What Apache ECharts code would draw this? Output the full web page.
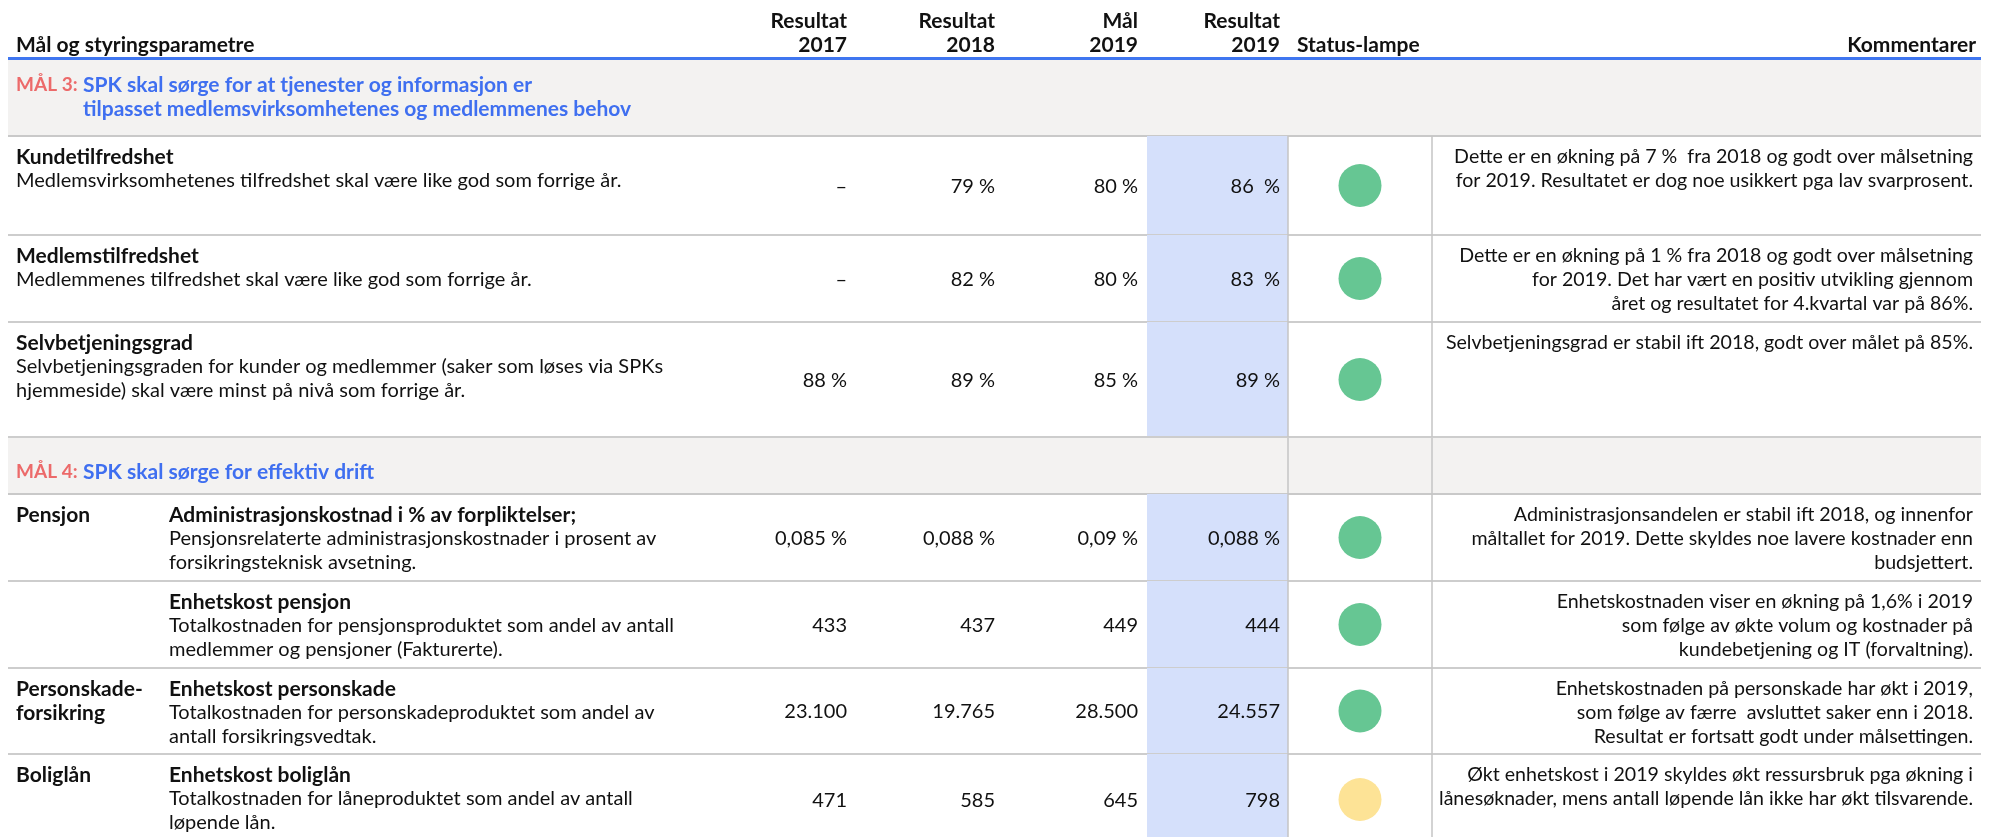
<!DOCTYPE html>
<html>
<head>
<meta charset="utf-8">
<script src="https://cdn.jsdelivr.net/npm/echarts@6/dist/echarts.min.js"></script>
<style>
  html, body { margin: 0; padding: 0; background: #fff; }
  #chart { width: 1996px; height: 837px; }
</style>
</head>
<body>
<div id="chart"></div>
<script>
// tabelltekster og verdier
var headTitle = 'Mål og styringsparametre';
var headValues = ['Resultat\n2017', 'Resultat\n2018', 'Mål\n2019', 'Resultat\n2019'];
var headLamp = 'Status-lampe';
var headComment = 'Kommentarer';

var goalLabels = ['MÅL 3:', 'MÅL 4:'];
var goalTexts = [
    'SPK skal sørge for at tjenester og informasjon er\ntilpasset medlemsvirksomhetenes og medlemmenes behov',
    'SPK skal sørge for effektiv drift'
];

var rowGoal = [0, 0, 0, 1, 1, 1, 1];
var areas = ['', '', '', 'Pensjon', '', 'Personskade-\nforsikring', 'Boliglån'];
var titles = [
    'Kundetilfredshet',
    'Medlemstilfredshet',
    'Selvbetjeningsgrad',
    'Administrasjonskostnad i % av forpliktelser;',
    'Enhetskost pensjon',
    'Enhetskost personskade',
    'Enhetskost boliglån'
];
var descriptions = [
    'Medlemsvirksomhetenes tilfredshet skal være like god som forrige år.',
    'Medlemmenes tilfredshet skal være like god som forrige år.',
    'Selvbetjeningsgraden for kunder og medlemmer (saker som løses via SPKs\nhjemmeside) skal være minst på nivå som forrige år.',
    'Pensjonsrelaterte administrasjonskostnader i prosent av\nforsikringsteknisk avsetning.',
    'Totalkostnaden for pensjonsproduktet som andel av antall\nmedlemmer og pensjoner (Fakturerte).',
    'Totalkostnaden for personskadeproduktet som andel av\nantall forsikringsvedtak.',
    'Totalkostnaden for låneproduktet som andel av antall\nløpende lån.'
];
var result2017 = ['–', '–', '88 %', '0,085 %', '433', '23.100', '471'];
var result2018 = ['79 %', '82 %', '89 %', '0,088 %', '437', '19.765', '585'];
var target2019 = ['80 %', '80 %', '85 %', '0,09 %', '449', '28.500', '645'];
var result2019 = ['86  %', '83  %', '89 %', '0,088 %', '444', '24.557', '798'];
var lampStatus = ['green', 'green', 'green', 'green', 'green', 'green', 'yellow'];
var comments = [
    'Dette er en økning på 7 %  fra 2018 og godt over målsetning\nfor 2019. Resultatet er dog noe usikkert pga lav svarprosent.',
    'Dette er en økning på 1 % fra 2018 og godt over målsetning\nfor 2019. Det har vært en positiv utvikling gjennom\nåret og resultatet for 4.kvartal var på 86%.',
    'Selvbetjeningsgrad er stabil ift 2018, godt over målet på 85%.',
    'Administrasjonsandelen er stabil ift 2018, og innenfor\nmåltallet for 2019. Dette skyldes noe lavere kostnader enn\nbudsjettert.',
    'Enhetskostnaden viser en økning på 1,6% i 2019\nsom følge av økte volum og kostnader på\nkundebetjening og IT (forvaltning).',
    'Enhetskostnaden på personskade har økt i 2019,\nsom følge av færre  avsluttet saker enn i 2018.\nResultat er fortsatt godt under målsettingen.',
    'Økt enhetskost i 2019 skyldes økt ressursbruk pga økning i\nlånesøknader, mens antall løpende lån ikke har økt tilsvarende.'
];

// layout (piksler)
var W = 1996, H = 837;
var LH = 24;
var FONT = 'Lato, "Noto Sans", sans-serif';
var BOLD = 'bold 21px ' + FONT, REG = '20px ' + FONT, NOTE = '19.6px ' + FONT, NUM = '20px ' + FONT;
var tableLeft = 8, tableRight = 1981, textLeft = 16, subLeft = 169, goalTextLeft = 83;
var valueRight = [847, 995, 1138, 1280];
var blueCol = [1147, 1288];
var lampCol = [1288, 1432];
var commentRight = 1973;
var goalBands = [[59, 136], [437, 494]];
var goalTextY = [85, 472];
var rowBounds = [[136, 235], [235, 322], [322, 437], [494, 581], [581, 668], [668, 754], [754, 845]];
var lampColors = { green: '#66c693', yellow: '#fde396' };

var chart = echarts.init(document.getElementById('chart'));

function text(p, str, font, color, align, vAlign) {
    return {
        type: 'text',
        style: {
            x: p[0], y: p[1], text: str, font: font, fill: color,
            align: align, textAlign: align,
            verticalAlign: vAlign || 'middle', textVerticalAlign: vAlign || 'middle',
            lineHeight: LH
        }
    };
}
// tekstblokk der første linjes midtpunkt ligger på y
function block(api, x, y, str, font, color, align) {
    return text(api.coord([x, y - LH / 2]), str, font, color, align, 'top');
}
function rect(api, x0, y0, x1, y1, color) {
    var a = api.coord([x0, y0]), b = api.coord([x1, y1]);
    return { type: 'rect', shape: { x: a[0], y: a[1], width: b[0] - a[0], height: b[1] - a[1] }, style: { fill: color } };
}
function hline(api, x0, x1, y, color, w) {
    var a = api.coord([x0, y]), b = api.coord([x1, y]);
    return { type: 'line', shape: { x1: a[0], y1: a[1], x2: b[0], y2: b[1] }, style: { stroke: color, lineWidth: w } };
}
function vline(api, x, y0, y1, color, w) {
    var a = api.coord([x, y0]), b = api.coord([x, y1]);
    return { type: 'line', shape: { x1: a[0], y1: a[1], x2: b[0], y2: b[1] }, style: { stroke: color, lineWidth: w } };
}

function renderHeader(params, api) {
    var ch = [];
    ch.push(block(api, textLeft, 45, headTitle, BOLD, '#111', 'left'));
    for (var i = 0; i < headValues.length; i++) {
        ch.push(block(api, valueRight[i], 21, headValues[i], BOLD, '#111', 'right'));
    }
    ch.push(block(api, lampCol[0] + 9, 45, headLamp, BOLD, '#111', 'left'));
    ch.push(block(api, commentRight + 3, 45, headComment, BOLD, '#111', 'right'));
    ch.push(rect(api, tableLeft, 57, tableRight, 60, '#3f76f0'));
    return { type: 'group', children: ch };
}

function renderGoal(params, api) {
    var g = params.dataIndex;
    var b = goalBands[g];
    var ch = [];
    ch.push(rect(api, tableLeft, b[0] + 1, tableRight, b[1], '#f3f2f1'));
    ch.push(hline(api, tableLeft, tableRight, b[1], '#c9c9c9', 2));
    if (g > 0) {
        ch.push(hline(api, tableLeft, tableRight, b[0], '#c9c9c9', 2));
        ch.push(vline(api, lampCol[0], b[0], b[1], '#c4c4c4', 1.5));
        ch.push(vline(api, lampCol[1], b[0], b[1], '#c4c4c4', 1.5));
    }
    var label = block(api, textLeft, goalTextY[g], goalLabels[g], null, '#ec6a6a', 'left');
    delete label.style.font;
    label.style.fontSize = 19;
    label.style.fontWeight = 'bold';
    label.style.fontFamily = FONT;
    ch.push(label);
    ch.push(block(api, goalTextLeft, goalTextY[g], goalTexts[g], 'bold 21px ' + FONT, '#3f6ff0', 'left'));
    return { type: 'group', children: ch };
}

function renderRow(params, api) {
    var i = params.dataIndex;
    var b = rowBounds[i];
    var top = b[0], bottom = b[1];
    var mid = (top + bottom) / 2 + 1;
    var y1 = top + 21;
    var left = rowGoal[i] === 0 ? textLeft : subLeft;
    var ch = [];
    ch.push(rect(api, blueCol[0], top, blueCol[1], bottom, '#d5e0fb'));
    ch.push(hline(api, tableLeft, tableRight, bottom, '#cdcdcd', 2));
    ch.push(vline(api, lampCol[0], top, bottom, '#c4c4c4', 1.5));
    ch.push(vline(api, lampCol[1], top, bottom, '#c4c4c4', 1.5));
    if (areas[i]) ch.push(block(api, textLeft, y1, areas[i], BOLD, '#111', 'left'));
    ch.push(block(api, left, y1, titles[i], BOLD, '#111', 'left'));
    ch.push(block(api, left, y1 + LH, descriptions[i], REG, '#111', 'left'));
    var vals = [result2017[i], result2018[i], target2019[i], result2019[i]];
    for (var k = 0; k < vals.length; k++) {
        ch.push(text(api.coord([valueRight[k], mid]), vals[k], NUM, '#111', 'right', 'middle'));
    }
    ch.push(block(api, commentRight, y1, comments[i], NOTE, '#111', 'right'));
    return { type: 'group', children: ch };
}

var lampData = rowBounds.map(function (b, i) {
    return {
        value: [(lampCol[0] + lampCol[1]) / 2, (b[0] + b[1]) / 2],
        itemStyle: { color: lampColors[lampStatus[i]] }
    };
});

var option = {
    animation: false,
    grid: { left: 0, right: 0, top: 0, bottom: 0 },
    xAxis: { type: 'value', min: 0, max: W, show: false },
    yAxis: { type: 'value', min: 0, max: H, inverse: true, show: false },
    series: [
        { type: 'custom', name: 'header', silent: true, renderItem: renderHeader, data: [[0, 0]], z: 1 },
        { type: 'custom', name: 'goals', silent: true, renderItem: renderGoal, data: goalLabels.map(function (g, i) { return [i, 0]; }), z: 1 },
        { type: 'custom', name: 'rows', silent: true, renderItem: renderRow, data: titles.map(function (t, i) { return [i, 0]; }), z: 2 },
        { type: 'scatter', name: 'status', silent: true, symbol: 'circle', symbolSize: 43, data: lampData, z: 3, itemStyle: { opacity: 1 } }
    ]
};

chart.setOption(option);
window.onresize = function () {
    chart.resize();
};
</script>
</body>
</html>
